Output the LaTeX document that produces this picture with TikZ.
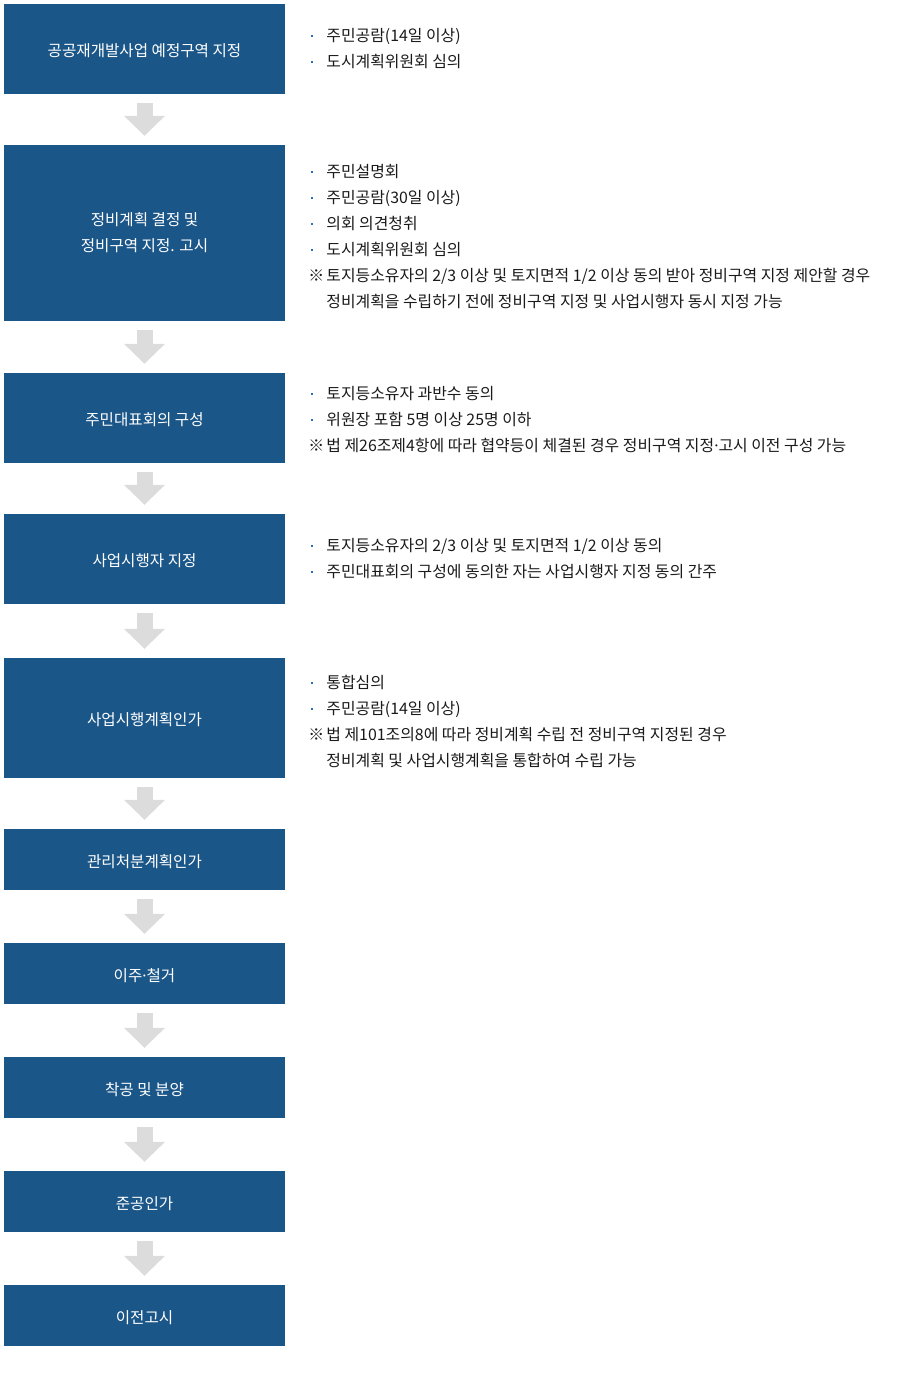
\documentclass[tikz,border=0pt]{standalone}
\usepackage{fontspec}
\setmainfont{Noto Sans CJK KR}
\newfontfamily\latinfont{Noto Sans}
\usepackage{xcolor}
\usepackage{tikz}
\usetikzlibrary{arrows.meta,positioning}

\definecolor{stageblue}{HTML}{1B5689}
\definecolor{arrowgray}{HTML}{DCDCDC}
\definecolor{dotblue}{HTML}{2A72B8}
\definecolor{notetext}{HTML}{1A1A1A}

\newcommand{\dotitem}{\makebox[18pt][l]{\hspace{3pt}\raisebox{4.5pt}{\color{dotblue}\rule{2pt}{2pt}}}}
\newcommand{\refmark}{\makebox[18pt][l]{※}}
\newcommand{\refcont}{\hspace*{18pt}}
\newcommand{\middot}{{\latinfont ·}}

\begin{document}
\begin{tikzpicture}[
    x=1pt, y=-1pt,
    stagebase/.style={rectangle, fill=stageblue, text=white, inner sep=0pt, minimum width=281pt, align=center,
        font=\fontsize{15.6}{26}\selectfont},
    stage/.style={stagebase, text height=15.8pt, text depth=0pt},
    note/.style={anchor=west, inner sep=0pt, align=left, text=notetext,
        font=\fontsize{15.9}{26}\selectfont},
    flow/.style={arrowgray, line width=16pt, shorten <=9pt, shorten >=9pt,
        -{Triangle[width=40pt,length=20pt]}}
]
\useasboundingbox (0,0) rectangle (920,1400);

% Stages
\node[stage, minimum height=90pt]      (s1)  at (144.5,49)   {공공재개발사업 예정구역 지정};
\node[stagebase, minimum height=176pt] (s2)  at (144.5,233)  {정비계획 결정 및\\정비구역 지정. 고시};
\node[stage, minimum height=90pt]      (s3)  at (144.5,418)  {주민대표회의 구성};
\node[stage, minimum height=90pt]      (s4)  at (144.5,559)  {사업시행자 지정};
\node[stage, minimum height=120pt]     (s5)  at (144.5,718)  {사업시행계획인가};
\node[stage, minimum height=61pt]      (s6)  at (144.5,859.5) {관리처분계획인가};
\node[stage, minimum height=61pt]      (s7)  at (144.5,973.5) {이주\middot 철거};
\node[stage, minimum height=61pt]      (s8)  at (144.5,1087.5) {착공 및 분양};
\node[stage, minimum height=61pt]      (s9)  at (144.5,1201.5) {준공인가};
\node[stage, minimum height=61pt]      (s10) at (144.5,1315.5) {이전고시};

% Notes
\node[note, right=23pt of s1, yshift=0.5pt] (n1) {%
\dotitem 주민공람(14일 이상)\\
\dotitem 도시계획위원회 심의};

\node[note, right=23pt of s2, yshift=-3.5pt] (n2) {%
\dotitem 주민설명회\\
\dotitem 주민공람(30일 이상)\\
\dotitem 의회 의견청취\\
\dotitem 도시계획위원회 심의\\
\refmark 토지등소유자의 2/3 이상 및 토지면적 1/2 이상 동의 받아 정비구역 지정 제안할 경우\\
\refcont 정비계획을 수립하기 전에 정비구역 지정 및 사업시행자 동시 지정 가능};

\node[note, right=23pt of s3, yshift=-2pt] (n3) {%
\dotitem 토지등소유자 과반수 동의\\
\dotitem 위원장 포함 5명 이상 25명 이하\\
\refmark 법 제26조제4항에 따라 협약등이 체결된 경우 정비구역 지정\middot 고시 이전 구성 가능};

\node[note, right=23pt of s4, yshift=0.5pt] (n4) {%
\dotitem 토지등소유자의 2/3 이상 및 토지면적 1/2 이상 동의\\
\dotitem 주민대표회의 구성에 동의한 자는 사업시행자 지정 동의 간주};

\node[note, right=23pt of s5, yshift=-3.5pt] (n5) {%
\dotitem 통합심의\\
\dotitem 주민공람(14일 이상)\\
\refmark 법 제101조의8에 따라 정비계획 수립 전 정비구역 지정된 경우\\
\refcont 정비계획 및 사업시행계획을 통합하여 수립 가능};

% Arrows
\foreach \a/\b in {s1/s2, s2/s3, s3/s4, s4/s5, s5/s6, s6/s7, s7/s8, s8/s9, s9/s10}
    \draw[flow] (\a) -- (\b);

\end{tikzpicture}
\end{document}
